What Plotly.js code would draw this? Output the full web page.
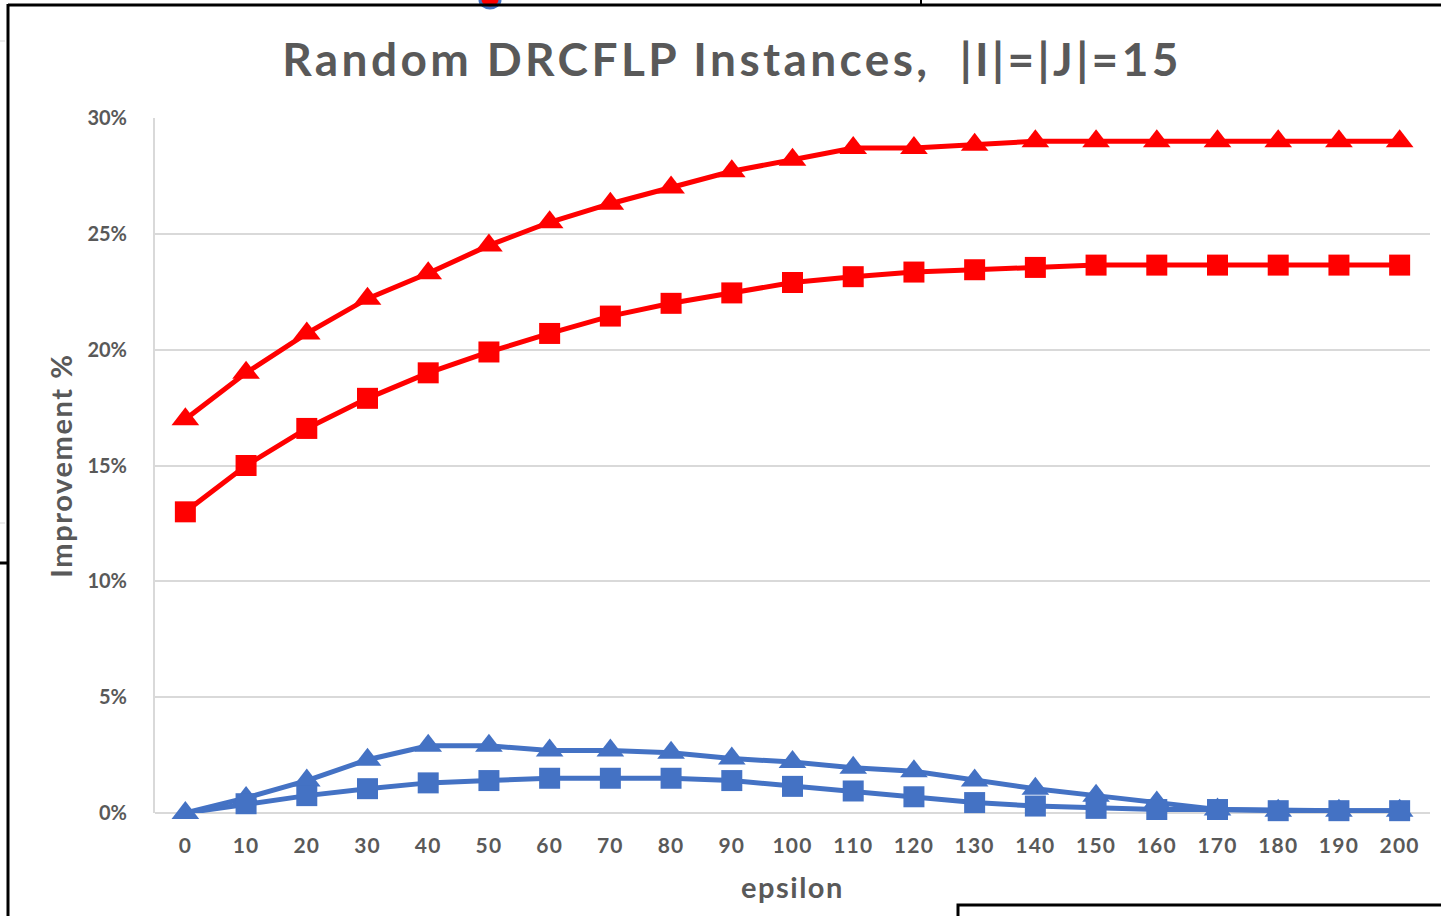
<!DOCTYPE html>
<html>
<head>
<meta charset="utf-8">
<script src="https://cdn.plot.ly/plotly-3.0.1.min.js"></script>
<style>
  html, body { margin: 0; padding: 0; background: #fff; }
  #chart { width: 1441px; height: 916px; }
  #chart .gtitle { letter-spacing: 3.4px; }
  #chart .xtitle { letter-spacing: 1.5px; }
  #chart .ytitle { letter-spacing: 1.6px; }
  #chart .xtick text { letter-spacing: 1.2px; }
</style>
</head>
<body>
<div id="chart"></div>
<script>
// epsilon values on the category axis
const epsilon = [0, 10, 20, 30, 40, 50, 60, 70, 80, 90, 100, 110, 120, 130, 140, 150, 160, 170, 180, 190, 200];

// improvement (%) per series
const redTriangle = [17.0, 19.0, 20.7, 22.2, 23.3, 24.5, 25.5, 26.3, 27.0, 27.7, 28.2, 28.7, 28.7, 28.85, 29.0, 29.0, 29.0, 29.0, 29.0, 29.0, 29.0];
const redSquare   = [13.0, 15.0, 16.6, 17.9, 19.0, 19.9, 20.7, 21.45, 22.0, 22.45, 22.9, 23.15, 23.35, 23.45, 23.55, 23.65, 23.65, 23.65, 23.65, 23.65, 23.65];
const blueTriangle = [0.0, 0.65, 1.4, 2.3, 2.9, 2.9, 2.7, 2.7, 2.6, 2.35, 2.2, 1.95, 1.8, 1.4, 1.05, 0.75, 0.45, 0.15, 0.1, 0.1, 0.1];
const blueSquare   = [0.0, 0.4, 0.75, 1.05, 1.3, 1.4, 1.5, 1.5, 1.5, 1.4, 1.15, 0.95, 0.7, 0.45, 0.3, 0.2, 0.15, 0.15, 0.1, 0.1, 0.1];

const yTicks = [0, 5, 10, 15, 20, 25, 30];
const yTickText = ['0%', '5%', '10%', '15%', '20%', '25%', '30%'];

const RED = '#FF0000';
const BLUE = '#4472C4';
const GREY = '#595959';
const FONT = 'Lato, "Open Sans", sans-serif';

// plot area geometry (pixels)
const W = 1441, H = 916;
const PL = 155, PR = 1430, PT = 118, PB = 813;
const px = x => (x - PL) / (PR - PL);
const py = y => (PB - y) / (PB - PT);

function series(y, color, symbol, size, sizes) {
  return {
    x: epsilon, y: y, type: 'scatter', mode: 'lines+markers',
    line: { color: color, width: 5 },
    marker: { color: color, symbol: symbol, size: sizes || size, opacity: 1, line: { width: 0 } },
    hoverinfo: 'x+y', showlegend: false, cliponaxis: false
  };
}

// first blue square sits underneath the starting triangle
const blueSquareSizes = epsilon.map((e, i) => i === 0 ? 0 : 21);

const data = [
  series(redTriangle, RED, 'triangle-up', 24),
  series(redSquare, RED, 'square', 21),
  series(blueTriangle, BLUE, 'triangle-up', 24),
  series(blueSquare, BLUE, 'square', 21, blueSquareSizes)
];

// frame lines around the chart
const frame = [
  { type: 'line', xref: 'paper', yref: 'paper', x0: px(8), x1: px(1445), y0: py(5), y1: py(5), line: { color: '#000', width: 3 } },
  { type: 'line', xref: 'paper', yref: 'paper', x0: px(8), x1: px(8), y0: py(4), y1: py(920), line: { color: '#000', width: 3 } },
  { type: 'line', xref: 'paper', yref: 'paper', x0: px(-5), x1: px(8), y0: py(563), y1: py(563), line: { color: '#000', width: 3 } },
  { type: 'line', xref: 'paper', yref: 'paper', x0: px(921), x1: px(921), y0: py(-5), y1: py(5), line: { color: '#000', width: 2 } },
  { type: 'line', xref: 'paper', yref: 'paper', x0: px(-5), x1: px(5), y0: py(41), y1: py(41), line: { color: '#D9D9D9', width: 1 } },
  { type: 'line', xref: 'paper', yref: 'paper', x0: px(-5), x1: px(5), y0: py(523), y1: py(523), line: { color: '#D9D9D9', width: 1 } },
  { type: 'circle', xref: 'paper', yref: 'paper', x0: px(480), x1: px(500), y0: py(-8), y1: py(8), fillcolor: RED, line: { color: BLUE, width: 3 }, layer: 'below' },
  { type: 'rect', xref: 'paper', yref: 'paper', x0: px(958), x1: px(1450), y0: py(905), y1: py(925), fillcolor: '#fff', line: { color: '#000', width: 3 } }
];

const layout = {
  width: W, height: H,
  margin: { l: PL, r: W - PR, t: PT, b: H - PB, pad: 0 },
  paper_bgcolor: '#fff', plot_bgcolor: '#fff',
  title: {
    text: 'Random DRCFLP Instances,  |I|=|J|=15',
    font: { family: FONT, size: 46, color: GREY, weight: 'bold' },
    x: px(732), xanchor: 'center', xref: 'paper',
    y: 1 - 60 / H, yanchor: 'middle'
  },
  xaxis: {
    range: [-5, 205], tickmode: 'array', tickvals: epsilon, ticktext: epsilon.map(String),
    showgrid: false, zeroline: false, showline: false,
    ticks: '', tickfont: { family: FONT, size: 21, color: GREY, weight: 'bold' },
    ticklabelstandoff: 18,
    title: { text: 'epsilon', font: { family: FONT, size: 29, color: GREY, weight: 'bold' }, standoff: 21 },
    fixedrange: true
  },
  yaxis: {
    range: [0, 30], tickmode: 'array', tickvals: yTicks, ticktext: yTickText,
    showgrid: true, gridcolor: '#D9D9D9', gridwidth: 2,
    zeroline: true, zerolinecolor: '#D9D9D9', zerolinewidth: 2,
    showline: true, linecolor: '#D9D9D9', linewidth: 2,
    ticks: '', tickfont: { family: FONT, size: 20, color: GREY, weight: 'bold' },
    ticklabelstandoff: 22,
    title: { text: 'Improvement %', font: { family: FONT, size: 29, color: GREY, weight: 'bold' }, standoff: 6 },
    fixedrange: true
  },
  shapes: frame
};

Plotly.newPlot('chart', data, layout, { displayModeBar: false, staticPlot: true });
</script>
</body>
</html>
